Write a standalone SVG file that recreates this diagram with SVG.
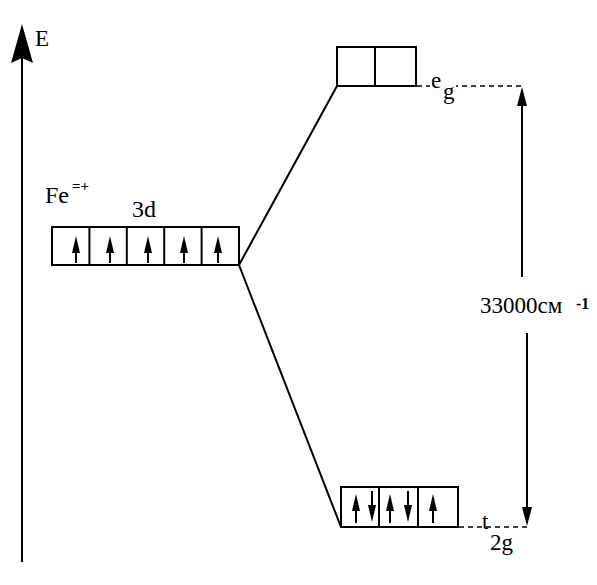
<svg xmlns="http://www.w3.org/2000/svg" width="597" height="585" viewBox="0 0 597 585">
<style>
.box{fill:none;stroke:#000;stroke-width:2}
.ln{stroke:#000;stroke-width:2;fill:none}
.dash{stroke:#000;stroke-width:1.5;stroke-dasharray:5,4;fill:none}
.t{font-family:"Liberation Serif","Times New Roman",serif;fill:#000;font-size:23px}
.ah{fill:#000}
</style>
<rect width="597" height="585" fill="#fff"/>
<g id="axis">
<line class="ln" x1="22" y1="562" x2="22" y2="50"/>
<polygon class="ah" points="22,24 33,63 22,58 11,63"/>
<text class="t" x="35" y="46">E</text>
</g>
<g id="connectors">
<line class="ln" x1="239" y1="265" x2="337" y2="86" stroke-width="1.5"/>
<line class="ln" x1="239" y1="265" x2="341" y2="527" stroke-width="1.5"/>
<line class="dash" x1="417" y1="86" x2="523" y2="86"/>
<line class="dash" x1="459" y1="527" x2="528" y2="527"/>
<line class="ln" x1="522" y1="100" x2="522" y2="277"/>
<polygon class="ah" points="522,87 527,106 517,106"/>
<line class="ln" x1="527" y1="333" x2="527" y2="512"/>
<polygon class="ah" points="527,526 522,507 532,507"/>
</g>
<g id="fe3d">
<rect class="box" x="52" y="227" width="187" height="38"/>
<line class="ln" x1="89.4" y1="227" x2="89.4" y2="265"/>
<line class="ln" x1="126.8" y1="227" x2="126.8" y2="265"/>
<line class="ln" x1="164.2" y1="227" x2="164.2" y2="265"/>
<line class="ln" x1="201.6" y1="227" x2="201.6" y2="265"/>
<g id="fe-arrows">
<line class="ln" x1="76" y1="263" x2="76" y2="248"/><polygon class="ah" points="76,236 80,253 72,253"/>
<line class="ln" x1="110" y1="263" x2="110" y2="248"/><polygon class="ah" points="110,236 114,253 106,253"/>
<line class="ln" x1="148" y1="263" x2="148" y2="248"/><polygon class="ah" points="148,236 152,253 144,253"/>
<line class="ln" x1="184" y1="263" x2="184" y2="248"/><polygon class="ah" points="184,236 188,253 180,253"/>
<line class="ln" x1="218" y1="263" x2="218" y2="248"/><polygon class="ah" points="218,236 222,253 214,253"/>
</g>
<text class="t" x="45" y="203" style="font-size:24px">Fe</text>
<text class="t" x="72" y="191" style="font-size:15px;font-weight:bold">=+</text>
<text class="t" x="132" y="217" style="font-size:24px">3d</text>
</g>
<g id="eg">
<rect class="box" x="337" y="47" width="79" height="39"/>
<line class="ln" x1="375" y1="47" x2="375" y2="86"/>
<rect x="430" y="80" width="26" height="10" fill="#fff"/>
<text class="t" x="431" y="88">e</text>
<text class="t" x="443" y="99">g</text>
</g>
<g id="t2g">
<rect class="box" x="341" y="487" width="117" height="40"/>
<line class="ln" x1="379" y1="487" x2="379" y2="527"/>
<line class="ln" x1="418" y1="487" x2="418" y2="527"/>
<line class="ln" x1="356" y1="523" x2="356" y2="506"/><polygon class="ah" points="356,494 360,511 352,511"/>
<line class="ln" x1="372" y1="491" x2="372" y2="508"/><polygon class="ah" points="372,522 376,505 368,505"/>
<line class="ln" x1="390" y1="523" x2="390" y2="506"/><polygon class="ah" points="390,494 394,511 386,511"/>
<line class="ln" x1="408" y1="491" x2="408" y2="508"/><polygon class="ah" points="408,522 412,505 404,505"/>
<line class="ln" x1="433" y1="523" x2="433" y2="506"/><polygon class="ah" points="433,494 437,511 429,511"/>
<text class="t" x="482" y="529">t</text>
<text class="t" x="490" y="550">2g</text>
</g>
<g id="label">
<text class="t" x="480" y="313">33000см</text>
<text class="t" x="576" y="309" style="font-size:16px;font-weight:bold">-1</text>
</g>
</svg>
